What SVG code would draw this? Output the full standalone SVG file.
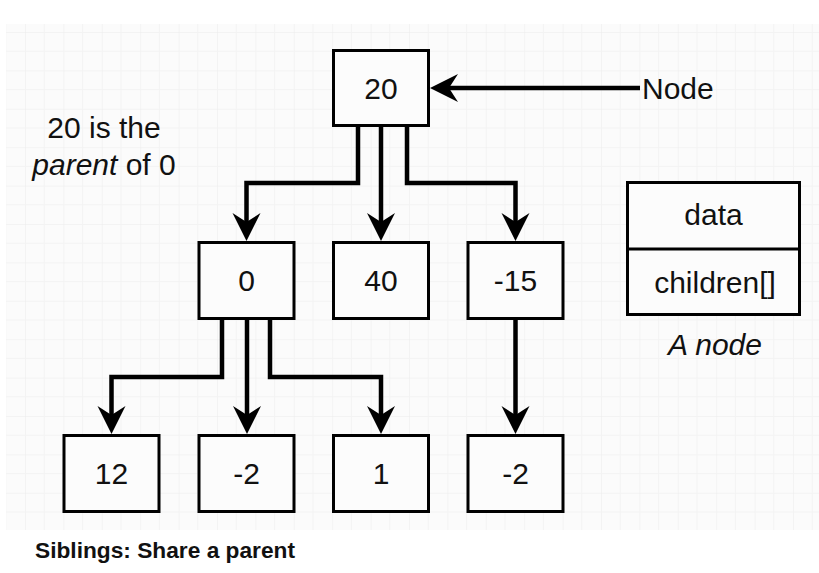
<svg xmlns="http://www.w3.org/2000/svg" width="819" height="573" viewBox="0 0 819 573">
  <defs>
    <pattern id="grid" x="25" y="32" width="38.4" height="38.4" patternUnits="userSpaceOnUse">
      <path d="M0,0 H38.4 M0,0 V38.4" fill="none" stroke="#ececec" stroke-width="1"/>
      <path d="M0,19.2 H38.4 M19.2,0 V38.4" fill="none" stroke="#f3f3f3" stroke-width="1"/>
    </pattern>
    <marker id="arrow" viewBox="0 -15 30 30" markerWidth="30" markerHeight="30" refX="9" refY="0" orient="auto" markerUnits="userSpaceOnUse">
      <path d="M0,-14 L28,0 L0,14 L9,0 Z" fill="#000"/>
    </marker>
    <style>
      .box { fill: #fcfcfc; stroke: #000; stroke-width: 3; }
      .lbl { font-family: "Liberation Sans", Arial, sans-serif; font-size: 30px; fill: #111; text-anchor: middle; }
      .edge { fill: none; stroke: #000; stroke-width: 4.5; stroke-linejoin: miter; marker-end: url(#arrow); }
    </style>
  </defs>

  <rect x="0" y="0" width="819" height="573" fill="#ffffff"/>
  <rect x="6" y="24" width="813" height="506" fill="#fbfbfb"/>
  <rect x="6" y="24" width="813" height="506" fill="url(#grid)"/>

  <g id="connectors">
    <path class="edge" d="M358,127 V183 H246.5 V222"/>
    <path class="edge" d="M381,127 V222"/>
    <path class="edge" d="M407,127 V183 H515.5 V222"/>
    <path class="edge" d="M222,320 V377 H111.5 V415"/>
    <path class="edge" d="M247,320 V415"/>
    <path class="edge" d="M270,320 V377 H381 V415"/>
    <path class="edge" d="M515.5,320 V415"/>
    <path class="edge" d="M640,88 H449"/>
  </g>

  <g id="node-root-20">
    <rect class="box" x="333.5" y="50.5" width="95" height="75"/>
    <text class="lbl" x="381" y="99">20</text>
  </g>
  <g id="node-0">
    <rect class="box" x="199" y="242.5" width="95" height="76"/>
    <text class="lbl" x="246.5" y="291">0</text>
  </g>
  <g id="node-40">
    <rect class="box" x="333.5" y="242.5" width="95" height="76"/>
    <text class="lbl" x="381" y="291">40</text>
  </g>
  <g id="node-neg15">
    <rect class="box" x="468" y="242.5" width="95" height="76"/>
    <text class="lbl" x="515.5" y="291">-15</text>
  </g>
  <g id="node-12">
    <rect class="box" x="64" y="435.5" width="95" height="76"/>
    <text class="lbl" x="111.5" y="484">12</text>
  </g>
  <g id="node-neg2a">
    <rect class="box" x="199" y="435.5" width="95" height="76"/>
    <text class="lbl" x="246.5" y="484">-2</text>
  </g>
  <g id="node-1">
    <rect class="box" x="333.5" y="435.5" width="95" height="76"/>
    <text class="lbl" x="381" y="484">1</text>
  </g>
  <g id="node-neg2b">
    <rect class="box" x="468" y="435.5" width="95" height="76"/>
    <text class="lbl" x="515.5" y="484">-2</text>
  </g>

  <g id="label-node">
    <text class="lbl" x="642" y="99" style="text-anchor:start">Node</text>
  </g>

  <g id="label-parent">
    <text class="lbl" x="104" y="138">20 is the</text>
    <text class="lbl" x="104" y="175"><tspan font-style="italic">parent</tspan> of 0</text>
  </g>

  <g id="node-legend">
    <rect class="box" x="627.5" y="182.5" width="172" height="132"/>
    <line x1="626" y1="249" x2="801" y2="249" stroke="#000" stroke-width="3"/>
    <text class="lbl" x="713.5" y="225">data</text>
    <text class="lbl" x="715" y="293">children[]</text>
    <text class="lbl" x="715" y="355" font-style="italic">A node</text>
  </g>

  <g id="caption">
    <text x="35" y="558" font-family="'Liberation Sans', Arial, sans-serif" font-weight="bold" font-size="22" fill="#111" textLength="260" lengthAdjust="spacingAndGlyphs">Siblings: Share a parent</text>
  </g>
</svg>
